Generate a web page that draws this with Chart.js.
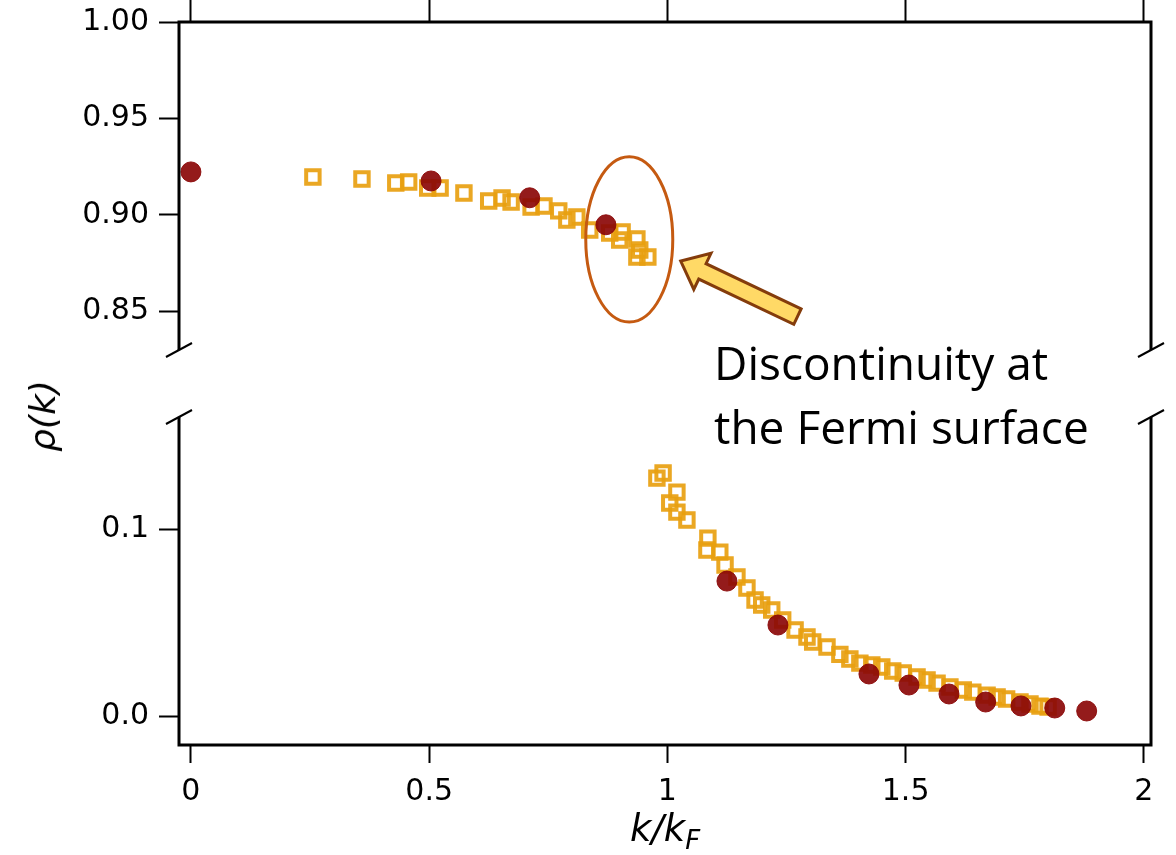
<!DOCTYPE html>
<html>
<head>
<meta charset="utf-8">
<title>rho(k) across the Fermi surface</title>
<script src="https://cdn.jsdelivr.net/npm/chart.js@4.4.1/dist/chart.umd.min.js"></script>
<style>
  body { margin: 0; background: #fff; }
  #wrap { position: relative; width: 1176px; height: 855px; overflow: hidden; }
  #upperBox { position: absolute; left: 0; top: 0; width: 1176px; height: 383px; }
  #lowerBox { position: absolute; left: 0; top: 383px; width: 1176px; height: 472px; }
  .note { position: absolute; left: 714px; top: 330px; font: 46px/64px "Open Sans", sans-serif; color: #000; white-space: nowrap; }
  .ytitle { position: absolute; left: 43px; top: 416px; transform: translate(-50%, -50%) rotate(-90deg);
            font: italic 36px/40px "DejaVu Sans", sans-serif; white-space: nowrap; }
  .xtitle { position: absolute; left: 665px; top: 809px; transform: translateX(-50%);
            font: italic 37px/40px "DejaVu Sans", sans-serif; white-space: nowrap; }
  .xtitle sub { font-size: 0.7em; vertical-align: -0.3em; line-height: 0; }
</style>
</head>
<body>
<div id="wrap">
  <div id="upperBox"><canvas id="upper"></canvas></div>
  <div id="lowerBox"><canvas id="lower"></canvas></div>
  <div class="ytitle">ρ(k)</div>
  <div class="xtitle">k/k<sub>F</sub></div>
  <div class="note">Discontinuity at<br>the Fermi surface</div>
</div>
<script>
// filled circles
const circleK = [0, 0.504, 0.711, 0.871, 1.125, 1.232, 1.423, 1.507, 1.591, 1.668, 1.742, 1.813, 1.880];
const circleRho = [0.9223, 0.9176, 0.9089, 0.8949, 0.0722, 0.0487, 0.0225, 0.0166, 0.0118, 0.0075, 0.0054, 0.0043, 0.0027];

// open squares, below and above k_F
const squareK = [
  0.256, 0.359, 0.430, 0.457, 0.497, 0.523, 0.573, 0.625, 0.653, 0.672, 0.714, 0.741,
  0.772, 0.789, 0.810, 0.837, 0.879, 0.905, 0.900, 0.936, 0.942, 0.936, 0.959,
  0.978, 0.991, 1.020, 1.005, 1.020, 1.041, 1.085, 1.083, 1.110, 1.121, 1.146, 1.167,
  1.184, 1.198, 1.219, 1.242, 1.268, 1.293, 1.305, 1.335, 1.362, 1.383, 1.404, 1.429,
  1.450, 1.473, 1.495, 1.524, 1.545, 1.566, 1.593, 1.621, 1.641, 1.671, 1.692, 1.712,
  1.740, 1.761, 1.782, 1.799
];
const squareRho = [
  0.9197, 0.9186, 0.9166, 0.9171, 0.9140, 0.9140, 0.9114, 0.9072, 0.9088, 0.9067, 0.9041, 0.9046,
  0.9021, 0.8974, 0.8989, 0.8922, 0.8906, 0.8912, 0.8870, 0.8875, 0.8818, 0.8782, 0.8782,
  0.1273, 0.1300, 0.1198, 0.1140, 0.1091, 0.1049, 0.0952, 0.0888, 0.0877, 0.0808, 0.0744, 0.0685,
  0.0621, 0.0594, 0.0567, 0.0514, 0.0460, 0.0423, 0.0396, 0.0369, 0.0330, 0.0305, 0.0283, 0.0273,
  0.0262, 0.0241, 0.0230, 0.0209, 0.0193, 0.0176, 0.0155, 0.0139, 0.0128, 0.0112, 0.0102, 0.0091,
  0.0075, 0.0064, 0.0053, 0.0048
];

const xTicks = [0, 0.5, 1, 1.5, 2];
const xTickLabels = ['0', '0.5', '1', '1.5', '2'];
const upperTicks = [0.85, 0.90, 0.95, 1.00];
const upperTickLabels = ['0.85', '0.90', '0.95', '1.00'];
const lowerTicks = [0, 0.1];
const lowerTickLabels = ['0.0', '0.1'];

Chart.defaults.font.family = '"DejaVu Sans", sans-serif';
Chart.defaults.color = '#000';

function pointsOf(ks, rhos) {
  return ks.map((k, i) => ({ x: k, y: rhos[i] }));
}

// frame lines plus the slashes where the y axis is cut
const axisFrame = {
  id: 'axisFrame',
  afterDraw(chart, args, opts) {
    const { ctx, chartArea: a } = chart;
    const upper = opts.part === 'upper';
    ctx.save();
    ctx.strokeStyle = '#000';
    ctx.lineWidth = 3;
    ctx.beginPath();
    if (upper) {
      ctx.moveTo(a.left, a.bottom); ctx.lineTo(a.left, a.top);
      ctx.lineTo(a.right, a.top); ctx.lineTo(a.right, a.bottom);
    } else {
      ctx.moveTo(a.left, a.top); ctx.lineTo(a.left, a.bottom);
      ctx.lineTo(a.right, a.bottom); ctx.lineTo(a.right, a.top);
    }
    ctx.stroke();
    const yCut = upper ? a.bottom : a.top;
    ctx.lineWidth = 2;
    [a.left, a.right].forEach(x => {
      ctx.beginPath();
      ctx.moveTo(x - 13, yCut + 7);
      ctx.lineTo(x + 13, yCut - 7);
      ctx.stroke();
    });
    ctx.restore();
  }
};

// ellipse round the last points below k_F and the block arrow pointing at it
const callout = {
  id: 'callout',
  afterDatasetsDraw(chart) {
    const { ctx, scales: { x, y } } = chart;
    const cx = x.getPixelForValue(0.920), cy = y.getPixelForValue(0.8873);
    const rx = x.getPixelForValue(0.920 + 0.0913) - cx;
    const ry = cy - y.getPixelForValue(0.8873 + 0.0428);
    ctx.save();
    ctx.strokeStyle = '#C55A11';
    ctx.lineWidth = 3;
    ctx.beginPath();
    ctx.ellipse(cx, cy, rx, ry, 0, 0, Math.PI * 2);
    ctx.stroke();

    const tip = { x: x.getPixelForValue(1.028), y: y.getPixelForValue(0.8761) };
    const tail = { x: x.getPixelForValue(1.273), y: y.getPixelForValue(0.8473) };
    const shaftW = 17, headW = 40, headL = 24;
    const dx = tip.x - tail.x, dy = tip.y - tail.y, len = Math.hypot(dx, dy);
    const ux = dx / len, uy = dy / len, nx = -uy, ny = ux;
    const bx = tip.x - ux * headL, by = tip.y - uy * headL;
    const pts = [
      [tail.x + nx * shaftW / 2, tail.y + ny * shaftW / 2],
      [bx + nx * shaftW / 2, by + ny * shaftW / 2],
      [bx + nx * headW / 2, by + ny * headW / 2],
      [tip.x, tip.y],
      [bx - nx * headW / 2, by - ny * headW / 2],
      [bx - nx * shaftW / 2, by - ny * shaftW / 2],
      [tail.x - nx * shaftW / 2, tail.y - ny * shaftW / 2]
    ];
    ctx.beginPath();
    pts.forEach((p, i) => i ? ctx.lineTo(p[0], p[1]) : ctx.moveTo(p[0], p[1]));
    ctx.closePath();
    ctx.fillStyle = '#FFD966';
    ctx.fill();
    ctx.strokeStyle = '#843C0C';
    ctx.lineJoin = 'miter';
    ctx.stroke();
    ctx.restore();
  }
};

function makePanel(canvasId, part) {
  const upper = part === 'upper';
  const yTicks = upper ? upperTicks : lowerTicks;
  const yLabels = upper ? upperTickLabels : lowerTickLabels;
  return new Chart(document.getElementById(canvasId), {
    type: 'scatter',
    data: {
      datasets: [
        {
          data: pointsOf(circleK, circleRho),
          pointStyle: 'circle',
          pointRadius: 10,
          backgroundColor: 'rgba(139,8,8,0.92)',
          borderColor: 'rgba(139,8,8,0.92)',
          borderWidth: 1
        },
        {
          data: pointsOf(squareK, squareRho),
          pointStyle: 'rect',
          pointRadius: 9.5,
          backgroundColor: 'rgba(255,255,255,0)',
          borderColor: 'rgba(232,160,16,0.92)',
          borderWidth: 4
        }
      ]
    },
    options: {
      responsive: true,
      maintainAspectRatio: false,
      animation: false,
      events: [],
      layout: { padding: upper ? { left: 0, right: 25, top: 0, bottom: 33 } : { left: 0, right: 25, top: 34, bottom: 0 } },
      plugins: {
        legend: { display: false },
        tooltip: { enabled: false },
        axisFrame: { part: part }
      },
      scales: {
        x: {
          type: 'linear',
          position: upper ? 'top' : 'bottom',
          min: -0.025,
          max: 2.015,
          afterBuildTicks: s => { s.ticks = xTicks.map(v => ({ value: v })); },
          afterFit: s => { s.height = upper ? 22 : 110; },
          grid: { drawOnChartArea: false, tickLength: upper ? 22 : 18, tickWidth: 2, tickColor: '#000' },
          border: { display: false },
          ticks: {
            display: !upper,
            padding: 11,
            font: { size: 30 },
            maxRotation: 0,
            callback: (v, i) => xTickLabels[i]
          }
        },
        y: {
          type: 'linear',
          min: upper ? 0.83 : -0.0155,
          max: upper ? 1.0 : 0.16,
          afterBuildTicks: s => { s.ticks = yTicks.map(v => ({ value: v })); },
          afterFit: s => { s.width = 179; s.paddingTop = 0; s.paddingBottom = 0; },
          grid: { drawOnChartArea: false, tickLength: 20, tickWidth: 2, tickColor: '#000' },
          border: { display: false },
          ticks: {
            padding: 10,
            font: { size: 30 },
            callback: (v, i) => yLabels[i]
          }
        }
      }
    },
    plugins: upper ? [axisFrame, callout] : [axisFrame]
  });
}

makePanel('upper', 'upper');
makePanel('lower', 'lower');
</script>
</body>
</html>
